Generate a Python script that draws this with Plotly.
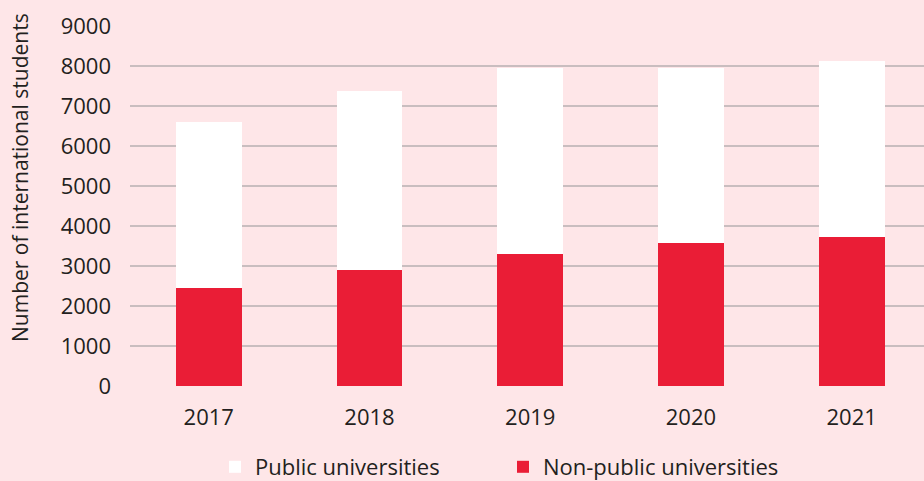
"""International students by university type, stacked bar chart."""

import plotly.graph_objects as go

# ── Colours ──────────────────────────────────────────────────────────────────
_BG = "#FEE6E8"
_RED = "#EA1D36"
_WHITE = "#FFFFFF"
_GRID = "#C9BDBF"
_TEXT = "#231F20"

# ── Data ─────────────────────────────────────────────────────────────────────
years = ["2017", "2018", "2019", "2020", "2021"]
non_public = [2450, 2900, 3300, 3575, 3725]
public = [4150, 4475, 4650, 4370, 4400]
y_ticks = [0, 1000, 2000, 3000, 4000, 5000, 6000, 7000, 8000, 9000]
y_title = "Number of international students"

_FONT = "Open Sans, Noto Sans, sans-serif"
_W, _H = 924, 481

fig = go.Figure()
fig.add_trace(go.Bar(
    x=years, y=non_public, name="Non-public universities",
    marker=dict(color=_RED, line=dict(width=0)), width=0.41,
))
fig.add_trace(go.Bar(
    x=years, y=public, name="Public universities",
    marker=dict(color=_WHITE, line=dict(width=0)), width=0.41,
))

# y title sits above the plot centre in the original, so place it by hand
fig.add_annotation(
    text=y_title, textangle=-90, showarrow=False,
    xref="paper", yref="paper",
    x=-130 / 794 + 20 / 794, y=(386 - 178) / 360,
    xanchor="center", yanchor="middle",
    font=dict(size=21),
)

fig.update_layout(
    barmode="stack",
    width=_W, height=_H,
    paper_bgcolor=_BG, plot_bgcolor=_BG,
    margin=dict(l=130, r=0, t=26, b=95),
    font=dict(family=_FONT, size=22, color=_TEXT),
    showlegend=True,
    legend=dict(
        orientation="h", traceorder="reversed",
        xref="container", yref="container",
        x=215 / _W, xanchor="left", y=1 - 467 / _H, yanchor="middle",
        entrywidth=243, entrywidthmode="pixels",
        font=dict(size=22), itemwidth=30,
        bgcolor="rgba(0,0,0,0)",
    ),
    xaxis=dict(
        range=[-0.49, 4.45], showgrid=False, showline=False, zeroline=False,
        ticks="", ticklabelstandoff=16, automargin=False,
    ),
    yaxis=dict(
        range=[0, 9000], tickvals=y_ticks, showgrid=True,
        gridcolor=_GRID, gridwidth=1.5, zeroline=False, showline=False,
        ticks="", ticklabelstandoff=18, automargin=False,
    ),
)

# drop the browser's default body margin so the figure fills the window
fig.write_html(
    "out.html",
    config={"displayModeBar": False},
    post_script="document.body.style.margin='0';document.body.style.padding='0';",
)
